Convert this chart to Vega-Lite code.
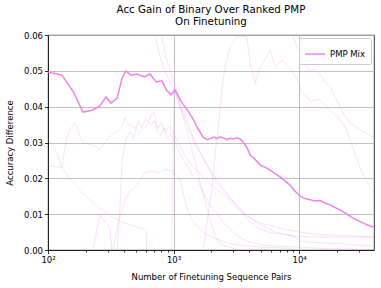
{
  "$schema": "https://vega.github.io/schema/vega-lite/v6.json",
  "width": 326,
  "height": 215,
  "autosize": "none",
  "padding": {"left": 48, "top": 35, "right": 7, "bottom": 38},
  "background": "white",
  "config": {
    "font": "DejaVu Sans",
    "view": {"stroke": "black", "strokeWidth": 0.8},
    "axis": {
      "labelFont": "DejaVu Sans", "labelFontSize": 8.5, "labelColor": "black",
      "titleFont": "DejaVu Sans", "titleFontSize": 8.5, "titleFontWeight": "normal", "titleColor": "black",
      "domainColor": "black", "domainWidth": 0.8, "tickColor": "black", "tickWidth": 0.8,
      "gridColor": "#b0b0b0", "gridWidth": 0.8
    },
    "title": {"font": "DejaVu Sans", "fontSize": 10.3, "fontWeight": "normal", "color": "black"}
  },
  "title": {"text": ["Acc Gain of Binary Over Ranked PMP", "On Finetuning"], "anchor": "middle", "offset": 4, "lineHeight": 12},
  "datasets": {
    "main": [
      {"x":100,"y":0.0497},{"x":129,"y":0.0488},{"x":160,"y":0.0440},{"x":190,"y":0.0385},{"x":224,"y":0.0390},{"x":259,"y":0.0402},{"x":290,"y":0.0427},{"x":318,"y":0.0410},{"x":355,"y":0.0424},{"x":389,"y":0.0480},{"x":418,"y":0.0500},{"x":458,"y":0.0488},{"x":512,"y":0.0491},{"x":582,"y":0.0483},{"x":650,"y":0.0491},{"x":726,"y":0.0469},{"x":809,"y":0.0472},{"x":887,"y":0.0444},{"x":955,"y":0.0433},{"x":1028,"y":0.0447},{"x":1127,"y":0.0419},{"x":1200,"y":0.0405},{"x":1259,"y":0.0396},{"x":1353,"y":0.0379},{"x":1450,"y":0.0362},{"x":1538,"y":0.0343},{"x":1620,"y":0.0330},{"x":1718,"y":0.0315},{"x":1850,"y":0.0308},{"x":1954,"y":0.0310},{"x":2100,"y":0.0316},{"x":2200,"y":0.0311},{"x":2348,"y":0.0315},{"x":2500,"y":0.0313},{"x":2650,"y":0.0308},{"x":2818,"y":0.0312},{"x":3000,"y":0.0310},{"x":3200,"y":0.0313},{"x":3388,"y":0.0310},{"x":3600,"y":0.0300},{"x":3855,"y":0.0285},{"x":4074,"y":0.0265},{"x":4400,"y":0.0255},{"x":4898,"y":0.0237},{"x":5300,"y":0.0232},{"x":5875,"y":0.0223},{"x":6400,"y":0.0214},{"x":7063,"y":0.0204},{"x":7700,"y":0.0193},{"x":8476,"y":0.0181},{"x":9300,"y":0.0164},{"x":10186,"y":0.0150},{"x":11000,"y":0.0144},{"x":12240,"y":0.0140},{"x":13400,"y":0.0137},{"x":14690,"y":0.0138},{"x":16000,"y":0.0131},{"x":17660,"y":0.0126},{"x":19500,"y":0.0118},{"x":21230,"y":0.0112},{"x":24000,"y":0.0100},{"x":26920,"y":0.0089},{"x":29500,"y":0.0082},{"x":32360,"y":0.0075},{"x":35500,"y":0.0069},{"x":38900,"y":0.0064}
    ],
    "faint": [
      {"run":"a","x":100,"y":0.031},{"run":"a","x":110,"y":0.029},{"run":"a","x":118,"y":0.027},{"run":"a","x":129,"y":0.0229},{"run":"a","x":145,"y":0.0205},{"run":"a","x":164,"y":0.0185},{"run":"a","x":185,"y":0.016},{"run":"a","x":208,"y":0.0145},{"run":"a","x":230,"y":0.013},{"run":"a","x":259,"y":0.0117},{"run":"a","x":290,"y":0.0104},{"run":"a","x":323,"y":0.0092},{"run":"a","x":365,"y":0.0083},{"run":"a","x":410,"y":0.0075},{"run":"a","x":460,"y":0.0069},{"run":"a","x":512,"y":0.0064},{"run":"a","x":560,"y":0.006},{"run":"a","x":604,"y":0.0056},{"run":"a","x":612,"y":-0.002},{"run":"a","x":700,"y":-0.005},

      {"run":"b","x":100,"y":0.0237},{"run":"b","x":129,"y":0.0229},{"run":"b","x":140,"y":0.031},{"run":"b","x":152,"y":0.034},{"run":"b","x":165,"y":0.0354},{"run":"b","x":178,"y":0.032},{"run":"b","x":190,"y":0.030},{"run":"b","x":210,"y":0.0295},{"run":"b","x":235,"y":0.029},{"run":"b","x":260,"y":0.028},{"run":"b","x":285,"y":0.030},{"run":"b","x":300,"y":0.031},{"run":"b","x":330,"y":0.0325},{"run":"b","x":355,"y":0.033},{"run":"b","x":390,"y":0.0345},{"run":"b","x":410,"y":0.0368},{"run":"b","x":440,"y":0.035},{"run":"b","x":470,"y":0.0345},{"run":"b","x":500,"y":0.034},{"run":"b","x":530,"y":0.0325},{"run":"b","x":570,"y":0.0335},{"run":"b","x":620,"y":0.035},{"run":"b","x":660,"y":0.0375},{"run":"b","x":700,"y":0.0385},{"run":"b","x":740,"y":0.033},{"run":"b","x":790,"y":0.032},{"run":"b","x":840,"y":0.034},{"run":"b","x":900,"y":0.031},{"run":"b","x":960,"y":0.0325},{"run":"b","x":1000,"y":0.031},{"run":"b","x":1060,"y":0.029},{"run":"b","x":1130,"y":0.027},{"run":"b","x":1200,"y":0.025},{"run":"b","x":1300,"y":0.0235},{"run":"b","x":1400,"y":0.021},{"run":"b","x":1550,"y":0.0195},{"run":"b","x":1700,"y":0.0165},{"run":"b","x":1850,"y":0.014},{"run":"b","x":2000,"y":0.012},{"run":"b","x":2200,"y":0.0105},{"run":"b","x":2400,"y":0.0085},{"run":"b","x":2600,"y":0.007},{"run":"b","x":2900,"y":0.0055},{"run":"b","x":3200,"y":0.004},{"run":"b","x":3600,"y":0.003},{"run":"b","x":4000,"y":0.0022},{"run":"b","x":5000,"y":0.0015},{"run":"b","x":7000,"y":0.001},{"run":"b","x":10000,"y":0.0008},{"run":"b","x":15000,"y":0.0004},{"run":"b","x":25000,"y":0.0002},{"run":"b","x":39500,"y":0.0001},

      {"run":"c","x":100,"y":-0.01},{"run":"c","x":200,"y":-0.004},{"run":"c","x":228,"y":0},{"run":"c","x":259,"y":0.0098},{"run":"c","x":290,"y":0.0075},{"run":"c","x":312,"y":0.006},{"run":"c","x":323,"y":0},{"run":"c","x":350,"y":-0.005},

      {"run":"d","x":100,"y":-0.01},{"run":"d","x":300,"y":-0.005},{"run":"d","x":355,"y":0},{"run":"d","x":375,"y":0.012},{"run":"d","x":389,"y":0.025},{"run":"d","x":418,"y":0.031},{"run":"d","x":450,"y":0.033},{"run":"d","x":480,"y":0.031},{"run":"d","x":520,"y":0.036},{"run":"d","x":560,"y":0.034},{"run":"d","x":600,"y":0.0365},{"run":"d","x":650,"y":0.035},{"run":"d","x":700,"y":0.036},{"run":"d","x":750,"y":0.034},{"run":"d","x":800,"y":0.0355},{"run":"d","x":860,"y":0.033},{"run":"d","x":920,"y":0.0345},{"run":"d","x":980,"y":0.0335},{"run":"d","x":1050,"y":0.031},{"run":"d","x":1150,"y":0.0285},{"run":"d","x":1250,"y":0.026},{"run":"d","x":1400,"y":0.0235},{"run":"d","x":1550,"y":0.022},{"run":"d","x":1700,"y":0.0205},{"run":"d","x":1900,"y":0.019},{"run":"d","x":2100,"y":0.0175},{"run":"d","x":2400,"y":0.016},{"run":"d","x":2700,"y":0.0145},{"run":"d","x":3000,"y":0.0125},{"run":"d","x":3400,"y":0.011},{"run":"d","x":3800,"y":0.0095},{"run":"d","x":4300,"y":0.0085},{"run":"d","x":5000,"y":0.0075},{"run":"d","x":6000,"y":0.0068},{"run":"d","x":7000,"y":0.006},{"run":"d","x":8500,"y":0.0055},{"run":"d","x":10000,"y":0.005},{"run":"d","x":13000,"y":0.0045},{"run":"d","x":17000,"y":0.0042},{"run":"d","x":22000,"y":0.004},{"run":"d","x":30000,"y":0.0038},{"run":"d","x":39500,"y":0.0036},

      {"run":"e","x":100,"y":-0.01},{"run":"e","x":300,"y":-0.003},{"run":"e","x":329,"y":0},{"run":"e","x":360,"y":0.007},{"run":"e","x":410,"y":0.014},{"run":"e","x":450,"y":0.0165},{"run":"e","x":493,"y":0.0176},{"run":"e","x":540,"y":0.0195},{"run":"e","x":590,"y":0.0215},{"run":"e","x":675,"y":0.022},{"run":"e","x":750,"y":0.0215},{"run":"e","x":850,"y":0.0225},{"run":"e","x":990,"y":0.022},{"run":"e","x":1127,"y":0.0195},{"run":"e","x":1270,"y":0.012},{"run":"e","x":1400,"y":0.0085},{"run":"e","x":1600,"y":0.006},{"run":"e","x":1800,"y":0.0045},{"run":"e","x":2200,"y":0.003},{"run":"e","x":3000,"y":0.0015},{"run":"e","x":5000,"y":0.0008},{"run":"e","x":8000,"y":0.0005},{"run":"e","x":12000,"y":-0.001},

      {"run":"f","x":100,"y":-0.01},{"run":"f","x":900,"y":-0.005},{"run":"f","x":965,"y":0},{"run":"f","x":985,"y":0.02},{"run":"f","x":1000,"y":0.035},{"run":"f","x":1015,"y":0.045},{"run":"f","x":1060,"y":0.043},{"run":"f","x":1127,"y":0.04},{"run":"f","x":1200,"y":0.037},{"run":"f","x":1300,"y":0.032},{"run":"f","x":1450,"y":0.026},{"run":"f","x":1600,"y":0.02},{"run":"f","x":1750,"y":0.015},{"run":"f","x":1900,"y":0.01},{"run":"f","x":2050,"y":0.006},{"run":"f","x":2200,"y":0.003},{"run":"f","x":2400,"y":0.0015},{"run":"f","x":2700,"y":0.001},{"run":"f","x":3000,"y":0.0005},{"run":"f","x":3500,"y":-0.002},

      {"run":"g","x":600,"y":0.075},{"run":"g","x":680,"y":0.065},{"run":"g","x":710,"y":0.06},{"run":"g","x":780,"y":0.054},{"run":"g","x":850,"y":0.05},{"run":"g","x":920,"y":0.0475},{"run":"g","x":1000,"y":0.045},{"run":"g","x":1080,"y":0.042},{"run":"g","x":1150,"y":0.039},{"run":"g","x":1250,"y":0.036},{"run":"g","x":1350,"y":0.033},{"run":"g","x":1500,"y":0.029},{"run":"g","x":1700,"y":0.026},{"run":"g","x":1900,"y":0.023},{"run":"g","x":2100,"y":0.021},{"run":"g","x":2400,"y":0.018},{"run":"g","x":2700,"y":0.0155},{"run":"g","x":3000,"y":0.0135},{"run":"g","x":3400,"y":0.011},{"run":"g","x":3900,"y":0.0085},{"run":"g","x":4500,"y":0.0065},{"run":"g","x":5200,"y":0.0055},{"run":"g","x":6000,"y":0.0048},{"run":"g","x":7000,"y":0.0045},{"run":"g","x":8500,"y":0.004},{"run":"g","x":10000,"y":0.0038},{"run":"g","x":13000,"y":0.0037},{"run":"g","x":17000,"y":0.0036},{"run":"g","x":22000,"y":0.0036},{"run":"g","x":30000,"y":0.0037},{"run":"g","x":39500,"y":0.0036},

      {"run":"h","x":700,"y":0.07},{"run":"h","x":800,"y":0.06},{"run":"h","x":870,"y":0.054},{"run":"h","x":940,"y":0.05},{"run":"h","x":1000,"y":0.047},{"run":"h","x":1080,"y":0.044},{"run":"h","x":1150,"y":0.04},{"run":"h","x":1250,"y":0.037},{"run":"h","x":1350,"y":0.034},{"run":"h","x":1450,"y":0.031},{"run":"h","x":1600,"y":0.028},{"run":"h","x":1800,"y":0.0245},{"run":"h","x":2000,"y":0.0215},{"run":"h","x":2200,"y":0.019},{"run":"h","x":2500,"y":0.0165},{"run":"h","x":2800,"y":0.0145},{"run":"h","x":3100,"y":0.013},{"run":"h","x":3400,"y":0.0115},{"run":"h","x":3800,"y":0.01},{"run":"h","x":4300,"y":0.0085},{"run":"h","x":5000,"y":0.007},{"run":"h","x":5600,"y":0.006},{"run":"h","x":6500,"y":0.005},{"run":"h","x":7500,"y":0.0045},{"run":"h","x":8500,"y":0.0042},{"run":"h","x":9500,"y":0.0035},{"run":"h","x":10200,"y":0.0025},{"run":"h","x":12000,"y":0.0022},{"run":"h","x":15000,"y":0.002},{"run":"h","x":20000,"y":0.0018},{"run":"h","x":27000,"y":0.0015},{"run":"h","x":35000,"y":0.0012},{"run":"h","x":39500,"y":0.001},

      {"run":"i","x":1500,"y":-0.01},{"run":"i","x":1720,"y":0},{"run":"i","x":1850,"y":0.008},{"run":"i","x":2000,"y":0.016},{"run":"i","x":2150,"y":0.027},{"run":"i","x":2300,"y":0.036},{"run":"i","x":2430,"y":0.045},{"run":"i","x":2600,"y":0.052},{"run":"i","x":2850,"y":0.057},{"run":"i","x":3180,"y":0.0594},{"run":"i","x":3500,"y":0.0595},{"run":"i","x":3855,"y":0.0593},{"run":"i","x":4074,"y":0.052},{"run":"i","x":4500,"y":0.0466},{"run":"i","x":4898,"y":0.051},{"run":"i","x":5300,"y":0.053},{"run":"i","x":5875,"y":0.0558},{"run":"i","x":6500,"y":0.051},{"run":"i","x":7300,"y":0.053},{"run":"i","x":8476,"y":0.051},{"run":"i","x":9700,"y":0.0474},{"run":"i","x":10600,"y":0.0438},{"run":"i","x":11500,"y":0.0427},{"run":"i","x":12500,"y":0.0413},{"run":"i","x":13500,"y":0.042},{"run":"i","x":14700,"y":0.0419},{"run":"i","x":16000,"y":0.0405},{"run":"i","x":17700,"y":0.039},{"run":"i","x":19500,"y":0.0375},{"run":"i","x":21230,"y":0.0363},{"run":"i","x":23500,"y":0.034},{"run":"i","x":25500,"y":0.0307},{"run":"i","x":28900,"y":0.0251},{"run":"i","x":31500,"y":0.022},{"run":"i","x":34900,"y":0.0187},{"run":"i","x":39500,"y":0.016},

      {"run":"j","x":8000,"y":0.075},{"run":"j","x":8900,"y":0.06},{"run":"j","x":9500,"y":0.057},{"run":"j","x":10186,"y":0.055},{"run":"j","x":11000,"y":0.052},{"run":"j","x":12240,"y":0.050},{"run":"j","x":13400,"y":0.0505},{"run":"j","x":14690,"y":0.049},{"run":"j","x":16000,"y":0.047},{"run":"j","x":17660,"y":0.0455},{"run":"j","x":19500,"y":0.0425},{"run":"j","x":21230,"y":0.040},{"run":"j","x":23000,"y":0.0375},{"run":"j","x":25500,"y":0.0355},{"run":"j","x":28000,"y":0.0345},{"run":"j","x":31000,"y":0.0335},{"run":"j","x":34500,"y":0.0325},{"run":"j","x":39500,"y":0.0315}
    ]
  },
  "encoding": {
    "x": {
      "field": "x", "type": "quantitative",
      "scale": {"type": "log", "domain": [100, 39500], "nice": false},
      "axis": {
        "title": "Number of Finetuning Sequence Pairs",
        "values": [100,200,300,400,500,600,700,800,900,1000,2000,3000,4000,5000,6000,7000,8000,9000,10000,20000,30000],
        "labelExpr": "datum.value == 100 ? '10²' : datum.value == 1000 ? '10³' : datum.value == 10000 ? '10⁴' : ''",
        "gridOpacity": {"condition": {"test": "datum.value == 100 || datum.value == 1000 || datum.value == 10000", "value": 1}, "value": 0},
        "tickSize": {"condition": {"test": "datum.value == 100 || datum.value == 1000 || datum.value == 10000", "value": 3.5}, "value": 2},
        "labelPadding": 2, "titlePadding": 8, "labelFlush": false, "labelOverlap": false
      }
    },
    "y": {
      "field": "y", "type": "quantitative",
      "scale": {"domain": [0, 0.06], "nice": false, "zero": false},
      "axis": {"title": "Accuracy Difference", "values": [0,0.01,0.02,0.03,0.04,0.05,0.06], "format": ".2f", "tickSize": 3.5, "labelPadding": 2, "titlePadding": 9}
    }
  },
  "layer": [
    {
      "data": {"name": "faint"},
      "mark": {"type": "line", "color": "violet", "opacity": 0.25, "strokeWidth": 1, "clip": true},
      "encoding": {"detail": {"field": "run"}}
    },
    {
      "data": {"name": "main"},
      "mark": {"type": "line", "strokeWidth": 1.5, "clip": true},
      "encoding": {
        "color": {
          "datum": "PMP Mix",
          "type": "nominal",
          "scale": {"domain": ["PMP Mix"], "range": ["violet"]},
          "legend": {
            "title": null, "orient": "top-right", "offset": 3,
            "symbolType": "stroke", "symbolSize": 400, "symbolStrokeWidth": 1.5,
            "labelFont": "DejaVu Sans", "labelFontSize": 8.5, "labelColor": "black",
            "strokeColor": "#cccccc", "fillColor": "white", "cornerRadius": 2, "padding": 5
          }
        }
      }
    }
  ]
}
